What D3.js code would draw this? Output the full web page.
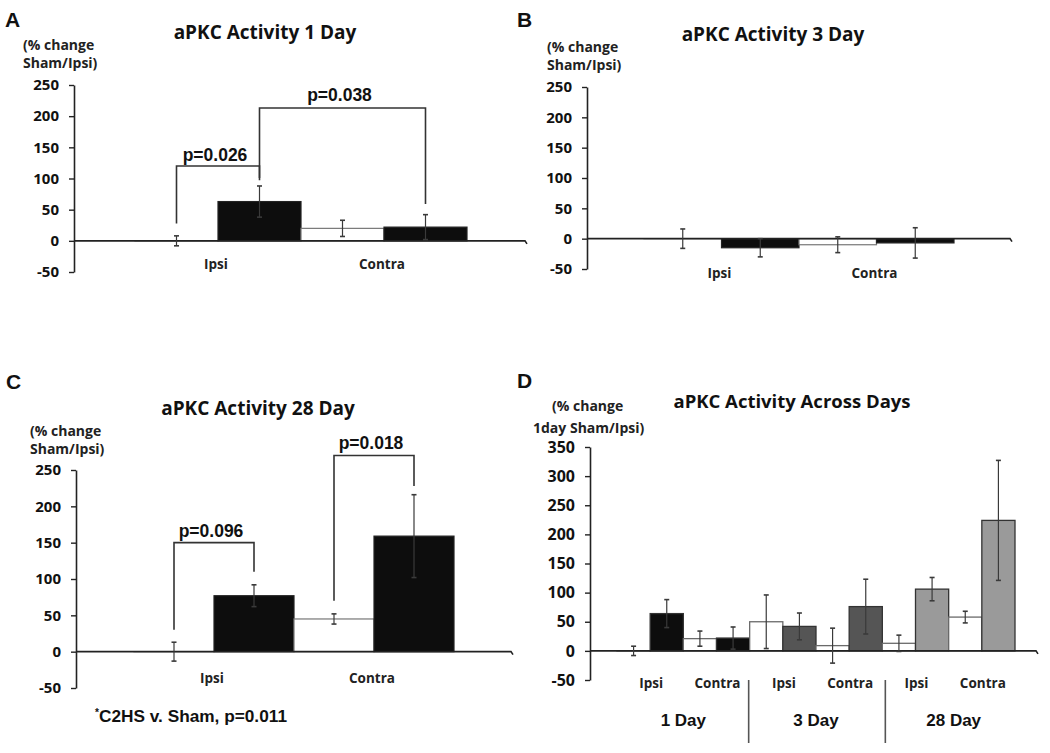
<!DOCTYPE html>
<html><head><meta charset="utf-8">
<script src="https://cdn.jsdelivr.net/npm/d3@7"></script>
<style>
body{margin:0;background:#fff;}
svg{display:block;}
</style></head>
<body>
<svg id="chart" width="1050" height="753"></svg>
<script>
// ---------- DATA ----------
const sides = ["Ipsi", "Contra"];
const groups = ["Sham", "C2HS"];
const days = ["1 Day", "3 Day", "28 Day"];
const ticksABC = [-50, 0, 50, 100, 150, 200, 250];
const ticksD = [-50, 0, 50, 100, 150, 200, 250, 300, 350];

const day1Sham = [0, 20],  day1ShamErr = [8, 13];
const day1C2HS = [63, 22], day1C2HSErr = [25, 20];
const day3Sham = [0, -10], day3ShamErr = [16, 13];
const day3C2HS = [-15, -7], day3C2HSErr = [15, 25];
const day28Sham = [0, 45], day28ShamErr = [13, 7];
const day28C2HS = [77, 159], day28C2HSErr = [15, 57];

// Across days: order 1 Day Ipsi, 1 Day Contra, 3 Day Ipsi, 3 Day Contra, 28 Day Ipsi, 28 Day Contra
const acrossSham = [0, 21, 50, 9, 13, 58];
const acrossShamErr = [8, 13, 46, 30, 14, 10];
const acrossC2HS = [64, 22, 42, 76, 106, 224];
const acrossC2HSErr = [24, 19, 23, 47, 20, 103];

// significance brackets: [side, group] endpoints, leg values, top value, label
const bracketsA = [
  {from: ["Ipsi", "Sham"], to: ["Ipsi", "C2HS"], left: 28, right: 97, top: 120, label: "p=0.026", textAt: 128},
  {from: ["Ipsi", "C2HS"], to: ["Contra", "C2HS"], left: 101, right: 59, top: 213, label: "p=0.038", textAt: 224}
];
const bracketsC = [
  {from: ["Ipsi", "Sham"], to: ["Ipsi", "C2HS"], left: 30, right: 110, top: 150, label: "p=0.096", textAt: 158},
  {from: ["Contra", "Sham"], to: ["Contra", "C2HS"], left: 70, right: 228, top: 270, label: "p=0.018", textAt: 279}
];

// ---------- DRAW ----------
const svg = d3.select("#chart");
const LAB = "'Open Sans', Lato, sans-serif";
const ARI = "'Liberation Sans', Arial, sans-serif";
const axisCol = "#222";
const errCol = "#3a3a3a";

function buildRows(shamV, shamE, c2V, c2E) {
  const rows = [];
  sides.forEach((s, i) => {
    rows.push({side: s, group: "Sham", v: shamV[i], e: shamE[i]});
    rows.push({side: s, group: "C2HS", v: c2V[i], e: c2E[i]});
  });
  return rows;
}

function yAxis(g, y, ticks, x, fs, pad) {
  const ax = g.append("g").attr("transform", `translate(${x},0)`)
    .call(d3.axisLeft(y).tickValues(ticks).tickFormat(d => String(d)).tickSize(5).tickSizeOuter(0).tickPadding(pad));
  ax.select(".domain").attr("stroke", axisCol).attr("stroke-width", 1.6);
  ax.selectAll(".tick line").attr("stroke", axisCol).attr("stroke-width", 1.4);
  ax.selectAll(".tick text").attr("font-family", LAB).attr("font-weight", 700)
    .attr("font-size", fs).attr("fill", "#111");
}

function baseline(g, y, x0, x1) {
  g.append("path")
    .attr("d", `M${x0},${y(0)}H${x1}l2,3`)
    .attr("fill", "none").attr("stroke", axisCol).attr("stroke-width", 1.6);
}

function errorBar(g, cx, y, v, e) {
  const hi = y(v + e), lo = y(v - e);
  g.append("line").attr("x1", cx).attr("x2", cx).attr("y1", hi).attr("y2", lo)
    .attr("stroke", errCol).attr("stroke-width", 1.2);
  [hi, lo].forEach(yy => g.append("line").attr("x1", cx - 2.5).attr("x2", cx + 2.5)
    .attr("y1", yy).attr("y2", yy).attr("stroke", errCol).attr("stroke-width", 1.6));
}

function drawSimple(cfg, rows, brackets) {
  const g = svg.append("g");
  const y = d3.scaleLinear().domain([-50, 250]).range([cfg.yBot, cfg.yTop]);
  const x0 = d3.scaleBand().domain(sides).range(cfg.barRange).padding(0);
  const x1 = d3.scaleBand().domain(groups).range([0, x0.bandwidth()]).padding(0);
  const cx = (s, gr) => x0(s) + x1(gr) + x1.bandwidth() / 2;

  g.append("text").attr("x", cfg.letter[0]).attr("y", cfg.letter[1]).text(cfg.letterText)
    .attr("font-family", ARI).attr("font-weight", 700).attr("font-size", 21).attr("fill", "#111");
  g.append("text").attr("x", cfg.title[0]).attr("y", cfg.title[1]).attr("text-anchor", "middle")
    .text(cfg.titleText).attr("font-family", LAB).attr("font-weight", 700).attr("font-size", 19).attr("fill", "#111");
  cfg.ylab.forEach((t, i) => g.append("text").attr("x", cfg.ylabPos[0]).attr("y", cfg.ylabPos[1] + i * 18)
    .text(t).attr("font-family", LAB).attr("font-weight", 700).attr("font-size", 14).attr("fill", "#222"));

  rows.forEach(r => {
    const top = Math.min(y(r.v), y(0)), h = Math.abs(y(r.v) - y(0));
    g.append("rect").attr("x", x0(r.side) + x1(r.group)).attr("y", top)
      .attr("width", x1.bandwidth()).attr("height", Math.max(h, 0.01))
      .attr("fill", r.group === "Sham" ? "#fff" : "#0d0d0d")
      .attr("stroke", r.group === "Sham" ? "#777" : "#222").attr("stroke-width", 1.2);
  });
  baseline(g, y, cfg.axisX, cfg.baseEnd);
  rows.forEach(r => errorBar(g, cx(r.side, r.group), y, r.v, r.e));
  yAxis(g, y, ticksABC, cfg.axisX, 15, 10);

  sides.forEach(s => g.append("text").attr("x", x0(s) + x0.bandwidth() / 2 - 2).attr("y", cfg.catY)
    .attr("text-anchor", "middle").text(s).attr("font-family", LAB).attr("font-weight", 700)
    .attr("font-size", 13.5).attr("fill", "#222"));

  (brackets || []).forEach(b => {
    const xa = cx(b.from[0], b.from[1]), xb = cx(b.to[0], b.to[1]);
    g.append("path").attr("d", `M${xa},${y(b.left)}V${y(b.top)}H${xb}V${y(b.right)}`)
      .attr("fill", "none").attr("stroke", "#333").attr("stroke-width", 1.6);
    g.append("text").attr("x", (xa + xb) / 2 - 3).attr("y", y(b.textAt)).attr("text-anchor", "middle")
      .text(b.label).attr("font-family", ARI).attr("font-weight", 700).attr("font-size", 17.5).attr("fill", "#111");
  });
  return g;
}

// Panel A
drawSimple({letterText: "A", letter: [5, 27], titleText: "aPKC Activity 1 Day", title: [265, 39],
  ylab: ["(% change", "Sham/Ipsi)"], ylabPos: [23, 50], axisX: 74, yTop: 85, yBot: 272,
  barRange: [135, 467], baseEnd: 525, catY: 269},
  buildRows(day1Sham, day1ShamErr, day1C2HS, day1C2HSErr), bracketsA);

// Panel B
drawSimple({letterText: "B", letter: [517, 27], titleText: "aPKC Activity 3 Day", title: [773, 41],
  ylab: ["(% change", "Sham/Ipsi)"], ylabPos: [547, 52], axisX: 587, yTop: 87, yBot: 269,
  barRange: [644, 954], baseEnd: 1010, catY: 278},
  buildRows(day3Sham, day3ShamErr, day3C2HS, day3C2HSErr), []);

// Panel C
const gC = drawSimple({letterText: "C", letter: [6, 389], titleText: "aPKC Activity 28 Day", title: [258, 415],
  ylab: ["(% change", "Sham/Ipsi)"], ylabPos: [30, 436], axisX: 76, yTop: 470, yBot: 688,
  barRange: [134, 454], baseEnd: 511, catY: 683},
  buildRows(day28Sham, day28ShamErr, day28C2HS, day28C2HSErr), bracketsC);
const foot = gC.append("text").attr("x", 95).attr("y", 722).attr("font-family", ARI)
  .attr("font-weight", 700).attr("fill", "#111").attr("font-size", 17)
  .attr("textLength", 192).attr("lengthAdjust", "spacingAndGlyphs");
foot.append("tspan").text("*").attr("font-size", 10).attr("dy", -6);
foot.append("tspan").text("C2HS v. Sham, p=0.011").attr("dy", 6);

// Panel D
(function () {
  const g = svg.append("g");
  const axisX = 590;
  const y = d3.scaleLinear().domain([-50, 350]).range([680, 447]);
  const xd = d3.scaleBand().domain(days).range([617, 1015]).padding(0);
  const xs = d3.scaleBand().domain(sides).range([0, xd.bandwidth()]).padding(0);
  const xg = d3.scaleBand().domain(groups).range([0, xs.bandwidth()]).padding(0);
  const c2Fill = d3.scaleOrdinal().domain(days).range(["#0d0d0d", "#555555", "#9a9a9a"]);

  g.append("text").attr("x", 517).attr("y", 388).text("D")
    .attr("font-family", ARI).attr("font-weight", 700).attr("font-size", 21).attr("fill", "#111");
  g.append("text").attr("x", 792).attr("y", 408).attr("text-anchor", "middle").text("aPKC Activity Across Days")
    .attr("font-family", LAB).attr("font-weight", 700).attr("font-size", 18.5).attr("fill", "#111");
  g.append("text").attr("x", 552).attr("y", 411).text("(% change")
    .attr("font-family", LAB).attr("font-weight", 700).attr("font-size", 14).attr("fill", "#222");
  g.append("text").attr("x", 533).attr("y", 433).text("1day Sham/Ipsi)")
    .attr("font-family", LAB).attr("font-weight", 700).attr("font-size", 14).attr("fill", "#222");

  const rows = [];
  days.forEach((d, di) => sides.forEach((s, si) => {
    const k = di * 2 + si;
    rows.push({day: d, side: s, group: "Sham", v: acrossSham[k], e: acrossShamErr[k]});
    rows.push({day: d, side: s, group: "C2HS", v: acrossC2HS[k], e: acrossC2HSErr[k]});
  }));
  const bx = r => xd(r.day) + xs(r.side) + xg(r.group);
  rows.forEach(r => {
    const top = Math.min(y(r.v), y(0)), h = Math.abs(y(r.v) - y(0));
    g.append("rect").attr("x", bx(r)).attr("y", top).attr("width", xg.bandwidth()).attr("height", Math.max(h, 0.01))
      .attr("fill", r.group === "Sham" ? "#fff" : c2Fill(r.day))
      .attr("stroke", r.group === "Sham" ? "#6a6a6a" : "#333").attr("stroke-width", 1.3);
  });
  baseline(g, y, axisX, 1036);
  rows.forEach(r => errorBar(g, bx(r) + xg.bandwidth() / 2, y, r.v, r.e));
  yAxis(g, y, ticksD, axisX, 16, 10);

  days.forEach(d => sides.forEach(s => g.append("text")
    .attr("x", xd(d) + xs(s) + xs.bandwidth() / 2 + 1).attr("y", 688).attr("text-anchor", "middle")
    .text(s).attr("font-family", LAB).attr("font-weight", 700).attr("font-size", 13.5).attr("fill", "#222")));
  days.forEach((d, i) => g.append("text").attr("x", xd(d) + xd.bandwidth() / 2 + (i === 2 ? 5 : 0)).attr("y", 726)
    .attr("text-anchor", "middle").text(d).attr("font-family", ARI).attr("font-weight", 700)
    .attr("font-size", 17).attr("fill", "#111"));
  days.slice(1).forEach((d, i) => g.append("line").attr("x1", xd(d) - 1 + i * 4).attr("x2", xd(d) - 1 + i * 4)
    .attr("y1", 680).attr("y2", 743).attr("stroke", "#555").attr("stroke-width", 1.6));
})();
</script>
</body></html>
